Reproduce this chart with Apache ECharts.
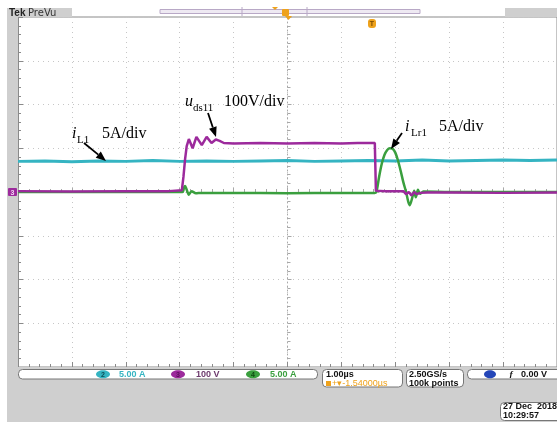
<!DOCTYPE html>
<html>
<head>
<meta charset="utf-8">
<script src="https://cdn.jsdelivr.net/npm/echarts@6/dist/echarts.min.js"></script>
<style>
html, body { margin: 0; padding: 0; background: #fff; }
#chart { width: 557px; height: 422px; }
</style>
</head>
<body>
<div id="chart"></div>
<script>
// time in divisions (1.00us/div), amplitude in divisions
var iL1T = [-5, -4.5, -4, -3.5, -3, -2.5, -2, -1.5, -1, -0.5, 0, 0.5, 1, 1.5, 2, 2.5, 3, 3.5, 4, 4.5, 5];
var iL1V = [0.70, 0.71, 0.69, 0.71, 0.70, 0.72, 0.70, 0.71, 0.70, 0.71, 0.72, 0.70, 0.71, 0.72, 0.71, 0.73, 0.71, 0.72, 0.73, 0.72, 0.73];

var udsT = [-5, -4, -3, -2.2, -1.96, -1.93, -1.9, -1.87, -1.83, -1.76, -1.69, -1.59, -1.5, -1.41, -1.33, -1.26, -1.18, -1.0, -0.5, 0, 0.5, 1.0, 1.3, 1.62, 1.64, 1.8, 2.15, 2.2, 2.25, 2.3, 2.35, 2.4, 2.46, 2.6, 3, 4, 5];
var udsV = [0.02, 0.01, 0.02, 0.02, 0.04, 0.35, 0.75, 1.05, 1.21, 1.0, 1.26, 1.07, 1.26, 1.12, 1.2, 1.17, 1.12, 1.11, 1.12, 1.11, 1.12, 1.11, 1.12, 1.12, 0.03, 0.02, 0.02, -0.05, 0.0, -0.08, 0.0, -0.05, -0.02, -0.01, -0.01, -0.02, -0.01];

var iLrT = [-5, -1.95, -1.92, -1.9, -1.87, -1.83, -1.78, -1.7, -1.6, -1.0, 0, 1.0, 1.62, 1.65, 1.7, 1.75, 1.8, 1.85, 1.9, 1.95, 2.0, 2.05, 2.1, 2.15, 2.2, 2.24, 2.27, 2.31, 2.35, 2.38, 2.42, 2.46, 2.52, 3, 4, 5];
var iLrV = [0, 0, 0.1, 0.14, 0.05, -0.06, 0.02, -0.03, -0.02, -0.02, -0.03, -0.02, -0.02, 0.0, 0.35, 0.65, 0.85, 0.96, 1.0, 0.99, 0.9, 0.72, 0.48, 0.22, 0.0, -0.22, -0.3, -0.15, 0.03, -0.12, 0.05, -0.04, 0.01, 0, 0, 0];

function pairs(t, v) {
  var out = [];
  for (var i = 0; i < t.length; i++) out.push([t[i], v[i]]);
  return out;
}

var cCyan = '#35b4c2', cPurple = '#9c2a9c', cGreen = '#3a9f3e', cOrange = '#eea21c', cGray = '#cfcfcf';

function txt(x, y, s, font, color, align) {
  return { type: 'text', z: 100, style: { x: x, y: y, text: s, font: font, fill: color || '#000', textAlign: align || 'left', textVerticalAlign: 'bottom' } };
}
function rect(x, y, w, h, fill, stroke, r) {
  return { type: 'rect', z: 50, shape: { x: x, y: y, width: w, height: h, r: r || 0 }, style: { fill: fill, stroke: stroke || null, lineWidth: 1 } };
}
function arrow(x1, y1, x2, y2) {
  var dx = x2 - x1, dy = y2 - y1, L = Math.sqrt(dx * dx + dy * dy), ux = dx / L, uy = dy / L;
  var h = 10, w = 4, bx = x2 - ux * h, by = y2 - uy * h;
  return [
    { type: 'line', z: 100, shape: { x1: x1, y1: y1, x2: bx, y2: by }, style: { stroke: '#000', lineWidth: 1.8 } },
    { type: 'polygon', z: 100, shape: { points: [[x2, y2], [bx - uy * w, by + ux * w], [bx + uy * w, by - ux * w]] }, style: { fill: '#000' } }
  ];
}

var serif = '16px "Liberation Serif"', serifI = 'italic 16px "Liberation Serif"', sub = '11px "Liberation Serif"';
var sb = 'bold 9px "Liberation Sans"';

var graphics = [
  // frame background
  rect(7, 8, 11, 414, cGray),
  rect(7, 367, 550, 55, cGray),
  rect(7, 8, 65, 9, cGray),
  rect(505, 8, 52, 9, cGray),
  txt(9, 18, 'Tek', 'bold 10px "Liberation Sans"', '#222'),
  txt(28, 18, 'PreVu', '10px "DejaVu Sans"', '#333'),
  // record view bar
  { type: 'rect', z: 50, shape: { x: 160, y: 9.5, width: 260, height: 4 }, style: { fill: '#eee9f2', stroke: '#b8a8c6', lineWidth: 1 } },
  { type: 'line', z: 51, shape: { x1: 242, y1: 7, x2: 242, y2: 16 }, style: { stroke: '#b8a8c6', lineWidth: 1 } },
  { type: 'line', z: 51, shape: { x1: 307, y1: 7, x2: 307, y2: 16 }, style: { stroke: '#b8a8c6', lineWidth: 1 } },
  { type: 'polygon', z: 52, shape: { points: [[272, 7], [278, 7], [275, 10]] }, style: { fill: cOrange } },
  rect(282, 9, 7, 7, cOrange, null, 1),
  { type: 'polygon', z: 52, shape: { points: [[285, 16], [292, 16], [288.5, 20]] }, style: { fill: cOrange } },
  rect(368, 19, 8, 9, cOrange, null, 3),
  txt(372, 28, 'T', 'bold 7px "Liberation Sans"', '#7a4a00', 'center'),
  // channel 3 level marker
  rect(8, 188, 9, 8, cPurple, null, 1),
  txt(12.5, 197, '3', 'bold 7px "Liberation Sans"', '#f3d6f3', 'center'),
  // annotations
  txt(72, 142, 'i', serifI), txt(77, 146, 'L1', sub), txt(102, 142, '5A/div', serif),
  txt(185, 110, 'u', serifI), txt(193, 114, 'ds11', sub), txt(224, 110, '100V/div', serif),
  txt(405, 135, 'i', serifI), txt(411, 139, 'Lr1', sub), txt(439, 135, '5A/div', serif),
  // status bar
  rect(18.5, 369.5, 299, 9.5, '#fff', '#777', 4),
  { type: 'ellipse', z: 60, shape: { cx: 103, cy: 374.2, rx: 7, ry: 4 }, style: { fill: cCyan } },
  txt(103, 379, '2', 'bold 7px "Liberation Sans"', '#0d4d55', 'center'),
  txt(119, 379.5, '5.00 A', sb, cCyan),
  { type: 'ellipse', z: 60, shape: { cx: 178, cy: 374.2, rx: 7, ry: 4 }, style: { fill: cPurple } },
  txt(178, 379, '3', 'bold 7px "Liberation Sans"', '#5a105a', 'center'),
  txt(196, 379.5, '100 V', sb, '#6d3a6d'),
  { type: 'ellipse', z: 60, shape: { cx: 253, cy: 374.2, rx: 7, ry: 4 }, style: { fill: cGreen } },
  txt(253, 379, '4', 'bold 7px "Liberation Sans"', '#0d4a10', 'center'),
  txt(270, 379.5, '5.00 A', sb, cGreen),
  rect(322.5, 369.5, 80, 17.5, '#fff', '#777', 4),
  txt(326, 379, '1.00\u00b5s', sb, '#111'),
  rect(326, 381, 5, 5, cOrange),
  txt(332, 388, '+\u25be-1.54000\u00b5s', '9px "Liberation Sans"', cOrange),
  rect(406.5, 369.5, 57, 17.5, '#fff', '#777', 4),
  txt(409, 379, '2.50GS/s', sb, '#111'),
  txt(409, 388, '100k points', sb, '#111'),
  rect(467.5, 369.5, 95, 9.5, '#fff', '#777', 4),
  { type: 'ellipse', z: 60, shape: { cx: 490, cy: 374.2, rx: 6, ry: 4 }, style: { fill: '#2446b8' } },
  txt(509, 379.5, '\u0192', 'italic bold 9px "Liberation Serif"', '#111'),
  txt(521, 379.5, '0.00 V', sb, '#111'),
  rect(500.5, 402.5, 62, 18, '#fff', '#777', 4),
  txt(503, 411.5, '27 Dec  2018', sb, '#111'),
  txt(503, 420.5, '10:29:57', sb, '#111')
];
graphics = graphics.concat(arrow(84, 143, 106, 161), arrow(208, 113, 216, 137), arrow(402, 133, 391, 149));

var chart = echarts.init(document.getElementById('chart'));
var dotted = { color: '#c6c6c6', type: [1, 4], width: 1 };
var option = {
  animation: false,
  backgroundColor: '#fff',
  grid: { left: 18, top: 17, width: 540, height: 350, show: true, borderColor: '#8a8a8a', borderWidth: 1, backgroundColor: '#fff' },
  xAxis: [
    { type: 'value', min: -5, max: 5, interval: 1, position: 'top',
      axisLine: { onZero: true, lineStyle: { color: '#a8a8a8', type: [1, 3] } },
      axisTick: { show: true, length: 4, lineStyle: { color: '#a8a8a8' } },
      minorTick: { show: true, splitNumber: 5, length: 3, lineStyle: { color: '#a8a8a8' } },
      splitLine: { show: true, lineStyle: dotted }, axisLabel: { show: false } },
    { type: 'value', min: -5, max: 5, interval: 1, position: 'bottom',
      axisLine: { onZero: false, lineStyle: { color: '#8a8a8a' } },
      axisTick: { show: true, inside: true, length: 5, lineStyle: { color: '#8a8a8a' } },
      minorTick: { show: true, splitNumber: 5, length: 3, lineStyle: { color: '#8a8a8a' } },
      splitLine: { show: false }, axisLabel: { show: false } }
  ],
  yAxis: [
    { type: 'value', min: -4, max: 4, interval: 1, position: 'right',
      axisLine: { onZero: true, lineStyle: { color: '#a8a8a8', type: [1, 3] } },
      axisTick: { show: true, length: 4, lineStyle: { color: '#a8a8a8' } },
      minorTick: { show: true, splitNumber: 5, length: 3, lineStyle: { color: '#a8a8a8' } },
      splitLine: { show: true, lineStyle: dotted }, axisLabel: { show: false } },
    { type: 'value', min: -4, max: 4, interval: 1, position: 'left',
      axisLine: { onZero: false, lineStyle: { color: '#8a8a8a' } },
      axisTick: { show: true, inside: true, length: 5, lineStyle: { color: '#8a8a8a' } },
      minorTick: { show: true, splitNumber: 5, length: 3, lineStyle: { color: '#8a8a8a' } },
      splitLine: { show: false }, axisLabel: { show: false } }
  ],
  series: [
    { name: 'iL1', type: 'line', xAxisIndex: 0, yAxisIndex: 0, showSymbol: false, z: 3,
      lineStyle: { color: cCyan, width: 3 }, data: pairs(iL1T, iL1V) },
    { name: 'iLr1', type: 'line', xAxisIndex: 0, yAxisIndex: 0, showSymbol: false, z: 4, smooth: 0.25,
      lineStyle: { color: cGreen, width: 2.5 }, data: pairs(iLrT, iLrV) },
    { name: 'uds11', type: 'line', xAxisIndex: 0, yAxisIndex: 0, showSymbol: false, z: 5,
      lineStyle: { color: cPurple, width: 2.5 }, data: pairs(udsT, udsV) }
  ],
  graphic: graphics
};
chart.setOption(option);
</script>
</body>
</html>
